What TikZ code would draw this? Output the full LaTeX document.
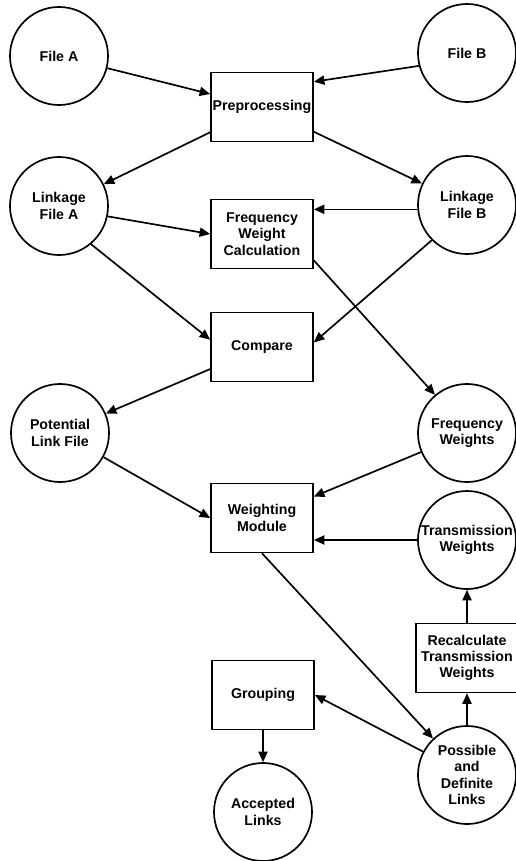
\documentclass[tikz,border=0pt]{standalone}
\usepackage{fontspec}
\setmainfont{Liberation Sans}
\usetikzlibrary{arrows.meta}

\begin{document}
\begin{tikzpicture}[x=0.025cm, y=-0.025cm, >={Triangle[length=7.5pt, width=6.5pt]}, line width=1.2pt,
        every node/.style={font=\fontsize{10.1}{11.6}\selectfont\bfseries, align=center, inner sep=0pt},
        file/.style={draw, circle, minimum size=2.45cm},
        proc/.style={draw, rectangle, minimum width=2.55cm, minimum height=1.72cm}]
            \useasboundingbox (0, 0) rectangle (515, 861);
            \node[file] (fileA) at (59, 56) {File A};
            \node[file] (fileB) at (467, 53) {File B};
            \node[proc] (pre) at (262, 107) {Preprocessing};
            \node[file] (linkA) at (59, 206) {Linkage\\File A};
            \node[file] (linkB) at (467, 205) {Linkage\\File B};
            \node[proc] (fwc) at (262, 234) {Frequency\\Weight\\Calculation};
            \node[proc] (cmp) at (262, 347) {Compare};
            \node[file] (plf) at (60, 433) {Potential\\Link File};
            \node[file] (freqW) at (467, 433) {Frequency\\Weights};
            \node[proc] (wm) at (262, 518) {Weighting\\Module};
            \node[file] (tw) at (467, 540) {Transmission\\Weights};
            \node[proc] (rec) at (467, 658) {Recalculate\\Transmission\\Weights};
            \node[proc] (grp) at (263, 695) {Grouping};
            \node[file] (pdl) at (467, 775) {Possible\\and\\Definite\\Links};
            \node[file] (al) at (263, 812) {Accepted\\Links};
            \draw[->] (fileA) -- (pre);
            \draw[->] (fileB.-165) -- (pre.26);
            \draw[->] (pre) -- (linkA);
            \draw[->] (pre) -- (linkB);
            \draw[->] (linkB.185) -- (linkB.185 -| fwc.east);
            \draw[->] (linkA.-12) -- (fwc.west);
            \draw[->] (linkA.-50) -- (cmp.172);
            \draw[->] (linkB.-135) -- (cmp.5);
            \draw[->] (fwc.-27) -- (freqW.130);
            \draw[->] (cmp) -- (plf);
            \draw[->] (plf.-29) -- (wm.west);
            \draw[->] (freqW) -- (wm);
            \draw[->] (tw.west) -- (tw.west -| wm.east);
            \draw[->] (wm.south) -- (pdl.133);
            \draw[->] (pdl.152) -- (grp.east);
            \draw[->] (grp) -- (al);
            \draw[->] (pdl) -- (rec);
            \draw[->] (rec) -- (tw);
        \end{tikzpicture}
\end{document}
